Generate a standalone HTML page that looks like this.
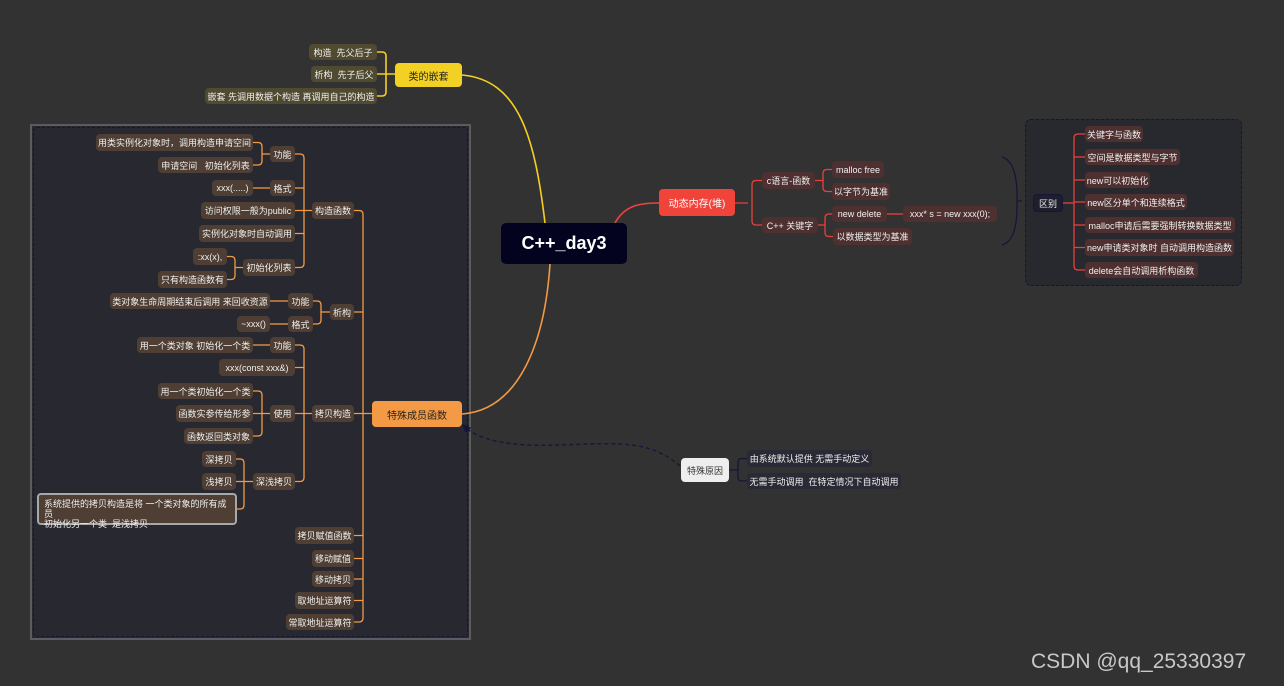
<!DOCTYPE html>
<html><head><meta charset="utf-8">
<style>
html,body{margin:0;padding:0;}
body{width:1284px;height:686px;background:#323232;position:relative;overflow:hidden;font-family:"Liberation Sans","Noto Sans CJK SC",sans-serif;}
.n{position:absolute;box-sizing:border-box;display:flex;align-items:center;justify-content:center;font-size:9px;color:#f0f0f0;border-radius:4px;white-space:nowrap;}
.o{background:#4e3e33;}
.y{background:#504a30;}
.r{background:#4e3030;}
.k{background:#2a2a36;}
svg{position:absolute;left:0;top:0;}
</style></head><body>
<div style="position:absolute;left:30px;top:124px;width:441px;height:516px;box-sizing:border-box;border:2px solid #5c5c5c;background:#282830;"></div>
<div style="position:absolute;left:33px;top:127px;width:435px;height:510px;box-sizing:border-box;border:1px dashed #15153a;border-radius:4px;"></div>
<div style="position:absolute;left:1025px;top:119px;width:217px;height:167px;box-sizing:border-box;border:1px dashed #15153a;border-radius:6px;background:#28282f;"></div>

<svg width="1284" height="686" fill="none">
<g stroke="#f5d020" stroke-width="1.6">
<path d="M545 223 C535 140 520 80 462 75"/>
<path d="M377 52 H382 Q386 52 386 56 V92 Q386 96 382 96 H377 M377 74 H395"/>
</g>
<path d="M550 264 C545 340 520 410 462 414" stroke="#f49a45" stroke-width="1.6"/>
<path d="M615 223 C625 205 640 203 659 203" stroke="#f0433a" stroke-width="1.6"/>
<g stroke="#f49a45" stroke-width="1.3">
<path d="M253 142.5 H258 Q262 142.5 262 146.5 V161 Q262 165 258 165 H253 M262 154 H270"/>
<path d="M253 188 H270"/>
<path d="M227 256.5 H231 Q235 256.5 235 260.5 V275.5 Q235 279.5 231 279.5 H227 M235 267.5 H243"/>
<path d="M295 154 H300 Q304 154 304 158 V263.5 Q304 267.5 300 267.5 H295 M295 188 H304 M295 210.5 H312 M295 233.5 H304"/>
<path d="M270 301 H288 M270 324 H288"/>
<path d="M313 301 H317 Q321 301 321 305 V320 Q321 324 317 324 H313 M321 312 H330"/>
<path d="M253 345 H270"/>
<path d="M253 391 H258 Q262 391 262 395 V432 Q262 436 258 436 H253 M253 413.5 H270"/>
<path d="M236 459 H240 Q244 459 244 463 V505 Q244 509 240 509 H237 M236 481.5 H253"/>
<path d="M295 345 H300 Q304 345 304 349 V477.5 Q304 481.5 300 481.5 H295 M295 367.5 H304 M295 413.5 H312"/>
<path d="M354 210.5 H359 Q363 210.5 363 214.5 V618 Q363 622 359 622 H354 M354 312 H363 M354 413.5 H372 M354 535.5 H363 M354 558.5 H363 M354 579 H363 M354 600.5 H363"/>
</g>
<g stroke="#e8413a" stroke-width="1.3">
<path d="M735 203 H748 M762 180.5 H756 Q752 180.5 752 184.5 V221 Q752 225 756 225 H762"/>
<path d="M815 180.5 H823 M832 169.5 H827 Q823 169.5 823 173.5 V187.5 Q823 191.5 827 191.5 H832"/>
<path d="M818 225 H825 M832 214 H829 Q825 214 825 218 V232.5 Q825 236.5 829 236.5 H833"/>
<path d="M887 214 H903"/>
<path d="M1062 203 H1074 M1085 134 H1078 Q1074 134 1074 138 V266 Q1074 270 1078 270 H1085 M1074 157 H1085 M1074 180 H1085 M1074 202 H1085 M1074 225 H1085 M1074 247.5 H1085"/>
</g>
<g stroke="#15153a" stroke-width="1.3">
<path d="M1002 157 Q1018 162 1017 201 Q1018 241 1002 245 M1017 201 H1022"/>
<path d="M729 470 H738 M747 458.5 H742 Q738 458.5 738 462.5 V477 Q738 481 742 481 H747"/>
<path d="M680 466 C650 440 620 443 560 445 C510 447 480 440 466 428" stroke-dasharray="4 3"/>
<path d="M463 425 L470 428 L466 432 Z" fill="#15153a"/>
</g>
</svg>

<!-- center -->
<div class="n" style="left:501px;top:223px;width:126px;height:41px;background:#03031f;font-size:18px;font-weight:bold;color:#fff;border-radius:5px;">C++_day3</div>

<!-- yellow -->
<div class="n" style="left:395px;top:63px;width:67px;height:24px;background:#f2d024;color:#222;font-size:10px;">类的嵌套</div>
<div class="n y" style="left:309px;top:44px;width:68px;height:16px;">构造&nbsp; 先父后子</div>
<div class="n y" style="left:311px;top:66px;width:66px;height:16px;">析构&nbsp; 先子后父</div>
<div class="n y" style="left:205px;top:88px;width:172px;height:16px;">嵌套 先调用数据个构造 再调用自己的构造</div>

<!-- left box -->
<div class="n o" style="left:96px;top:134px;width:157px;height:17px;">用类实例化对象时，调用构造申请空间</div>
<div class="n o" style="left:158px;top:157px;width:95px;height:16px;">申请空间&nbsp;&nbsp; 初始化列表</div>
<div class="n o" style="left:270px;top:146px;width:25px;height:16px;">功能</div>
<div class="n o" style="left:212px;top:180px;width:41px;height:16px;">xxx(.....)</div>
<div class="n o" style="left:270px;top:180px;width:25px;height:16px;">格式</div>
<div class="n o" style="left:201px;top:202px;width:94px;height:17px;">访问权限一般为public</div>
<div class="n o" style="left:199px;top:225px;width:96px;height:17px;">实例化对象时自动调用</div>
<div class="n o" style="left:193px;top:248px;width:34px;height:17px;">:xx(x),</div>
<div class="n o" style="left:158px;top:271px;width:69px;height:17px;">只有构造函数有</div>
<div class="n o" style="left:243px;top:259px;width:52px;height:17px;">初始化列表</div>
<div class="n o" style="left:312px;top:202px;width:42px;height:17px;">构造函数</div>
<div class="n o" style="left:110px;top:293px;width:160px;height:16px;">类对象生命周期结束后调用 来回收资源</div>
<div class="n o" style="left:288px;top:293px;width:25px;height:16px;">功能</div>
<div class="n o" style="left:237px;top:316px;width:33px;height:16px;">~xxx()</div>
<div class="n o" style="left:288px;top:316px;width:25px;height:16px;">格式</div>
<div class="n o" style="left:330px;top:304px;width:24px;height:16px;">析构</div>
<div class="n o" style="left:137px;top:337px;width:116px;height:16px;">用一个类对象 初始化一个类</div>
<div class="n o" style="left:270px;top:337px;width:25px;height:16px;">功能</div>
<div class="n o" style="left:219px;top:359px;width:76px;height:17px;">xxx(const xxx&amp;)</div>
<div class="n o" style="left:158px;top:383px;width:95px;height:16px;">用一个类初始化一个类</div>
<div class="n o" style="left:176px;top:405px;width:77px;height:17px;">函数实参传给形参</div>
<div class="n o" style="left:184px;top:428px;width:69px;height:16px;">函数返回类对象</div>
<div class="n o" style="left:270px;top:405px;width:25px;height:17px;">使用</div>
<div class="n o" style="left:312px;top:405px;width:42px;height:17px;">拷贝构造</div>
<div class="n" style="left:372px;top:401px;width:90px;height:26px;background:#f49a45;color:#222;font-size:10px;">特殊成员函数</div>
<div class="n o" style="left:202px;top:451px;width:34px;height:16px;">深拷贝</div>
<div class="n o" style="left:202px;top:473px;width:34px;height:17px;">浅拷贝</div>
<div class="n o" style="left:253px;top:473px;width:42px;height:17px;">深浅拷贝</div>
<div class="n o" style="left:37px;top:493px;width:200px;height:32px;border:2px solid #a8a8a8;justify-content:flex-start;align-items:flex-start;padding:4px 0 0 5px;line-height:10px;white-space:normal;">系统提供的拷贝构造是将 一个类对象的所有成员<br>初始化另一个类&nbsp; 是浅拷贝</div>
<div class="n o" style="left:295px;top:527px;width:59px;height:17px;">拷贝赋值函数</div>
<div class="n o" style="left:312px;top:550px;width:42px;height:17px;">移动赋值</div>
<div class="n o" style="left:312px;top:571px;width:42px;height:16px;">移动拷贝</div>
<div class="n o" style="left:295px;top:592px;width:59px;height:17px;">取地址运算符</div>
<div class="n o" style="left:286px;top:614px;width:68px;height:16px;">常取地址运算符</div>

<!-- red -->
<div class="n" style="left:659px;top:189px;width:76px;height:27px;background:#f0433a;color:#fff;font-size:10px;">动态内存(堆)</div>
<div class="n r" style="left:762px;top:172px;width:53px;height:17px;">c语言-函数</div>
<div class="n r" style="left:762px;top:217px;width:56px;height:16px;">C++ 关键字</div>
<div class="n r" style="left:832px;top:161px;width:52px;height:17px;">malloc free</div>
<div class="n r" style="left:832px;top:183px;width:58px;height:17px;">以字节为基准</div>
<div class="n r" style="left:832px;top:206px;width:55px;height:16px;">new delete</div>
<div class="n r" style="left:903px;top:206px;width:94px;height:16px;">xxx* s = new xxx(0);</div>
<div class="n r" style="left:833px;top:228px;width:79px;height:17px;">以数据类型为基准</div>
<div class="n" style="left:1033px;top:194px;width:30px;height:18px;background:#1e1e2c;border:1px solid #15153a;">区别</div>
<div class="n r" style="left:1085px;top:126px;width:58px;height:16px;">关键字与函数</div>
<div class="n r" style="left:1085px;top:149px;width:95px;height:16px;">空间是数据类型与字节</div>
<div class="n r" style="left:1085px;top:172px;width:65px;height:16px;">new可以初始化</div>
<div class="n r" style="left:1085px;top:194px;width:102px;height:16px;">new区分单个和连续格式</div>
<div class="n r" style="left:1085px;top:217px;width:150px;height:16px;">malloc申请后需要强制转换数据类型</div>
<div class="n r" style="left:1085px;top:239px;width:149px;height:17px;">new申请类对象时 自动调用构造函数</div>
<div class="n r" style="left:1085px;top:262px;width:113px;height:16px;">delete会自动调用析构函数</div>

<!-- special reason -->
<div class="n" style="left:681px;top:458px;width:48px;height:24px;background:#eeeeee;color:#333;">特殊原因</div>
<div class="n k" style="left:747px;top:450px;width:125px;height:17px;">由系统默认提供 无需手动定义</div>
<div class="n k" style="left:747px;top:473px;width:154px;height:16px;">无需手动调用&nbsp; 在特定情况下自动调用</div>

<div style="position:absolute;left:1031px;top:650px;font-size:21px;color:#c8c8c8;white-space:nowrap;">CSDN @qq_25330397</div>
</body></html>
